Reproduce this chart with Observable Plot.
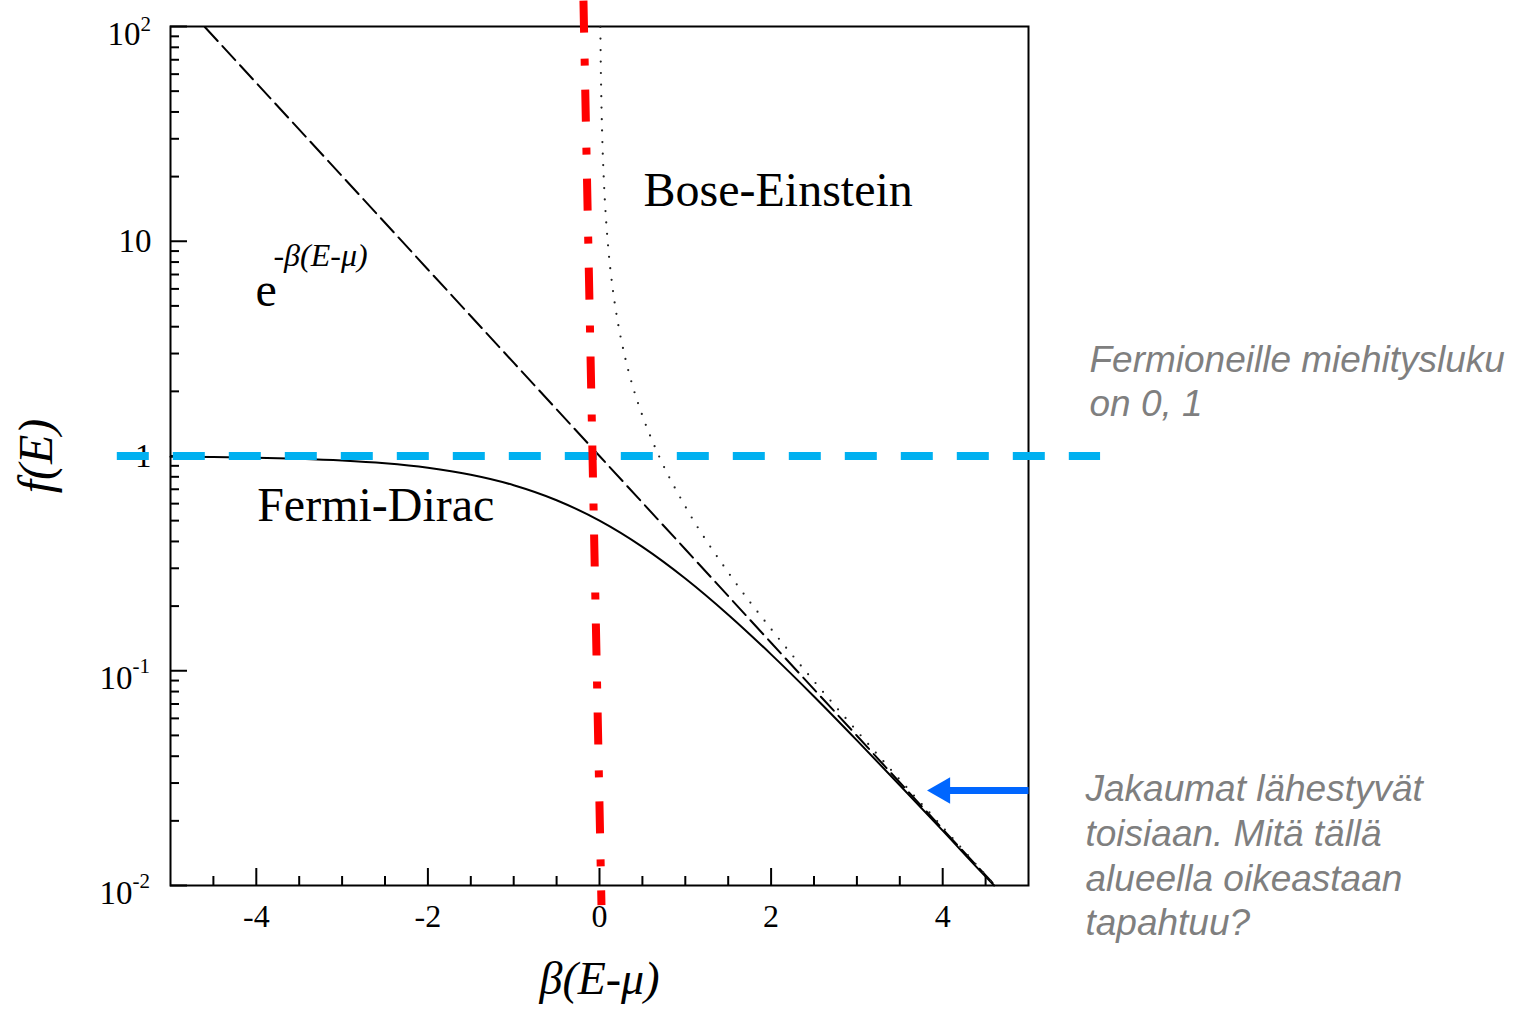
<!DOCTYPE html>
<html><head><meta charset="utf-8">
<script src="https://cdn.jsdelivr.net/npm/d3@7"></script>
<script src="https://cdn.jsdelivr.net/npm/@observablehq/plot@0.6"></script>
<style>html,body{margin:0;padding:0;background:#fff;overflow:hidden}</style>
</head><body><div id="chart"></div>
<script>
// ---- data ----
// Fermi-Dirac occupation (solid)
const fdX = [-5, -4.5, -4, -3.5, -3, -2.5, -2, -1.5, -1, -0.5, 0, 0.5, 1, 1.5, 2, 2.5, 3, 3.5, 4, 4.5, 4.6];
const fdY = [0.9933, 0.989, 0.982, 0.9707, 0.9526, 0.9241, 0.8808, 0.8176, 0.7311, 0.6225, 0.5, 0.3775, 0.2689, 0.1824, 0.1192, 0.0759, 0.0474, 0.0293, 0.018, 0.011, 0.01];
// Boltzmann e^{-β(E-μ)} (dashed)
const mbX = [-4.6, -4, -3, -2, -1, 0, 1, 2, 3, 4, 4.6];
const mbY = [99.5, 54.6, 20.1, 7.39, 2.72, 1, 0.368, 0.135, 0.0498, 0.0183, 0.0101];
// Bose-Einstein occupation (dotted)
const beX = [0.01, 0.015, 0.02, 0.03, 0.05, 0.075, 0.1, 0.15, 0.2, 0.3, 0.4, 0.5, 0.7, 1, 1.5, 2, 2.5, 3, 3.5, 4, 4.6];
const beY = [99.5, 66.2, 49.5, 32.8, 19.5, 12.84, 9.51, 6.18, 4.52, 2.86, 2.03, 1.541, 0.986, 0.582, 0.287, 0.1565, 0.0894, 0.0524, 0.0311, 0.0187, 0.0101];

// ticks
const xMajorTicks = [-4, -2, 0, 2, 4];
const xTickLabels = ["-4", "-2", "0", "2", "4"];
const xMinorTicks = [-4.5, -3.5, -3, -2.5, -1.5, -1, -0.5, 0.5, 1, 1.5, 2.5, 3, 3.5, 4.5];
const yMajorTicks = [100, 10, 1, 0.1, 0.01];
const yMinorTicks = [0.02,0.03,0.04,0.05,0.06,0.07,0.08,0.09, 0.2,0.3,0.4,0.5,0.6,0.7,0.8,0.9, 2,3,4,5,6,7,8,9, 20,30,40,50,60,70,80,90];
const yLabelValues = [100, 10, 1, 0.1, 0.01];
const yLabelBase = ["10", "10", "1", "10", "10"];
const yLabelExp = ["2", "", "", "-1", "-2"];

// annotations
const fermionLevel = [1];
const fermionSpan = [-5.62, 5.84];
const muLineX = [-0.187, 0.023];
const muLineY = [132, 0.0081];
const arrowY = [0.0277];
const arrowX = [5, 4.03, 3.997];
const labelBE = ["Bose-Einstein"];
const labelFD = ["Fermi-Dirac"];
const labelMBBase = ["e"];
const labelMBExp = ["-β(E-μ)"];
const xTitle = ["β(E-μ)"];
const yTitle = ["f(E)"];
const noteFermion = ["Fermioneille miehitysluku", "on 0, 1"];
const noteApproach = ["Jakaumat lähestyvät", "toisiaan. Mitä tällä", "alueella oikeastaan", "tapahtuu?"];

const fd = fdX.map((x, i) => ({x, y: fdY[i]}));
const mb = mbX.map((x, i) => ({x, y: mbY[i]}));
const be = beX.map((x, i) => ({x, y: beY[i]}));
const xLab = xMajorTicks.map((x, i) => ({x, label: xTickLabels[i]}));
const idx = yLabelValues.map((_, i) => i);
const plainIdx = idx.filter(i => yLabelExp[i] === "");
const posIdx = idx.filter(i => yLabelExp[i] !== "" && !yLabelExp[i].startsWith("-"));
const negIdx = idx.filter(i => yLabelExp[i].startsWith("-"));

const serif = "'Liberation Serif', 'Times New Roman', serif";
const sans = "'Liberation Sans', Arial, sans-serif";
const gray = "#7f7f7f";

const chart = Plot.plot({
  width: 1525, height: 1009,
  marginLeft: 170, marginRight: 497, marginTop: 26, marginBottom: 124,
  x: {domain: [-5, 5]},
  y: {type: "log", domain: [0.01, 100]},
  style: {fontFamily: serif, background: "#fff", color: "#000", overflow: "visible"},
  marks: [
    Plot.axisX(xMajorTicks, {tickSize: 17, dy: -17, strokeWidth: 2, tickFormat: () => "", label: null}),
    Plot.axisX(xMinorTicks, {tickSize: 9, dy: -9, strokeWidth: 2, tickFormat: () => "", label: null}),
    Plot.axisY(yMajorTicks, {tickSize: 17, dx: 17, strokeWidth: 2, tickFormat: () => "", label: null}),
    Plot.axisY(yMinorTicks, {tickSize: 9, dx: 9, strokeWidth: 2, tickFormat: () => "", label: null}),
    // x tick labels
    Plot.text(xLab, {x: "x", text: "label", frameAnchor: "bottom", textAnchor: "middle", lineAnchor: "middle", dy: 31, fontSize: 32}),
    // y tick labels with exponents
    Plot.text(plainIdx, {y: i => yLabelValues[i], text: i => yLabelBase[i], frameAnchor: "left", textAnchor: "end", dx: -19, fontSize: 33}),
    Plot.text(posIdx, {y: i => yLabelValues[i], text: i => yLabelBase[i], frameAnchor: "left", textAnchor: "end", dx: -30, dy: 8, fontSize: 33}),
    Plot.text(posIdx, {y: i => yLabelValues[i], text: i => yLabelExp[i], frameAnchor: "left", textAnchor: "start", dx: -30, dy: -2, fontSize: 21}),
    Plot.text(negIdx, {y: i => yLabelValues[i], text: i => yLabelBase[i], frameAnchor: "left", textAnchor: "end", dx: -38, dy: 8, fontSize: 33}),
    Plot.text(negIdx, {y: i => yLabelValues[i], text: i => yLabelExp[i], frameAnchor: "left", textAnchor: "start", dx: -38, dy: -4, fontSize: 21}),
    Plot.frame({stroke: "#000", strokeWidth: 2}),
    // curves
    Plot.line(fd, {x: "x", y: "y", stroke: "#000", strokeWidth: 2, curve: "monotone-x"}),
    Plot.line(mb, {x: "x", y: "y", stroke: "#000", strokeWidth: 2, strokeDasharray: "19,7"}),
    Plot.line(be, {x: "x", y: "y", stroke: "#222", strokeWidth: 2.2, strokeDasharray: "0,11.5", strokeLinecap: "round", curve: "monotone-x"}),
    // labels
    Plot.text(labelBE, {x: () => 0.513, y: () => 17.3, text: d => d, textAnchor: "start", fontSize: 48}),
    Plot.text(labelFD, {x: () => -3.99, y: () => 0.59, text: d => d, textAnchor: "start", fontSize: 48}),
    Plot.text(labelMBBase, {x: () => -4.01, y: () => 5.92, text: d => d, textAnchor: "start", fontSize: 48}),
    Plot.text(labelMBExp, {x: () => -3.80, y: () => 8.6, text: d => d, textAnchor: "start", fontSize: 32, fontStyle: "italic"}),
    Plot.text(xTitle, {frameAnchor: "bottom", dy: 108, text: d => d, textAnchor: "middle", fontSize: 46, fontStyle: "italic"}),
    Plot.text(yTitle, {frameAnchor: "left", dx: -134, rotate: -90, text: d => d, textAnchor: "middle", fontSize: 48, fontStyle: "italic"}),
    // overlays
    Plot.ruleY(fermionLevel, {y: d => d, x1: () => fermionSpan[0], x2: () => fermionSpan[1], stroke: "#00b0f0", strokeWidth: 8, strokeDasharray: "32,24"}),
    Plot.link([0], {x1: () => muLineX[0], y1: () => muLineY[0], x2: () => muLineX[1], y2: () => muLineY[1], stroke: "#ff0000", strokeWidth: 8, strokeDasharray: "32,26,7,24"}),
    Plot.link(arrowY, {x1: () => arrowX[0], x2: () => arrowX[1], y1: d => d, y2: d => d, stroke: "#0066ff", strokeWidth: 7}),
    Plot.dot(arrowY, {x: () => arrowX[2], y: d => d, symbol: "triangle", r: 9.9, rotate: -90, fill: "#0066ff", stroke: "none"}),
    // notes
    Plot.text([noteFermion.join("\n")], {frameAnchor: "top-right", dx: 61, dy: 314, text: d => d, textAnchor: "start", lineAnchor: "top", lineHeight: 1.19, fontSize: 37, fontStyle: "italic", fontFamily: sans, fill: gray}),
    Plot.text([noteApproach.join("\n")], {frameAnchor: "top-right", dx: 57, dy: 743, text: d => d, textAnchor: "start", lineAnchor: "top", lineHeight: 1.208, fontSize: 37, fontStyle: "italic", fontFamily: sans, fill: gray})
  ]
});
document.getElementById("chart").appendChild(chart);
</script>
</body></html>
